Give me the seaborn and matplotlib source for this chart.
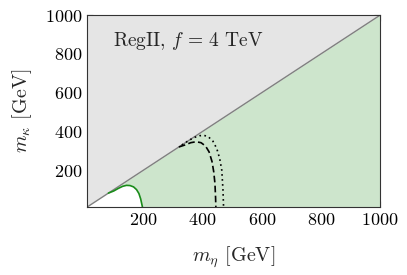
import numpy as np
import pandas as pd
import matplotlib
matplotlib.use("Agg")
import matplotlib.pyplot as plt
import seaborn as sns

# diagonal m_kappa = m_eta
diag = [10, 1000]

# solid green boundary (white region near origin)
green_x = [82, 100, 115, 130, 143, 155, 167, 177, 185, 191, 195, 197]
green_y = [82, 93, 106, 117, 122, 121, 114, 100, 80, 52, 24, 10]

# dashed contour
dash_x = [320, 340, 360, 378, 395, 410, 422, 432, 438, 442, 444, 445]
dash_y = [320, 330, 342, 347, 342, 325, 295, 245, 190, 130, 60, 10]

# dotted contour
dot_x = [330, 350, 370, 390, 405, 420, 435, 448, 458, 465, 469, 471]
dot_y = [330, 350, 368, 378, 380, 372, 350, 312, 260, 200, 100, 10]

sns.set_style("ticks")
plt.rcParams['font.family'] = ['serif']
plt.rcParams['font.serif'] = ['cmr10']
plt.rcParams['mathtext.fontset'] = 'cm'
plt.rcParams['axes.formatter.use_mathtext'] = True

fig = plt.figure(figsize=(4.07, 2.75), dpi=100)
ax = fig.add_axes([0.214, 0.247, 0.72, 0.698])

xx = np.array(diag)
ax.fill_between(xx, xx, 1000, color='#e5e5e5', lw=0)
ax.fill_between(xx, 0, xx, color='#cde5cc', lw=0)
gx = np.array([0] + green_x + [green_x[-1], 0])
gy = np.array([0] + green_y + [0, 0])
ax.fill(gx, gy, color='white', lw=0)
ax.fill_between([0, 85], [0, 0], [0, 85], color='white', lw=0)

sns.lineplot(x=diag, y=diag, color='#808080', lw=1, ax=ax)
sns.lineplot(x=green_x, y=green_y, sort=False, color='#1a8c1a', lw=1.2, ax=ax)
ax.plot(dash_x, dash_y, color='black', lw=1.2, ls=(0, (4, 2)))
ax.plot(dot_x, dot_y, color='black', lw=1.2, ls=(0, (1, 2)))

ax.set_xlim(10, 1000)
ax.set_ylim(10, 1000)
ax.set_xticks([200, 400, 600, 800, 1000])
ax.set_yticks([200, 400, 600, 800, 1000])
ax.tick_params(direction='in', top=True, right=True, length=4, width=0.8,
               labelsize=13, colors='#333333', labelcolor='black')
for s in ax.spines.values():
    s.set_color('#333333')
    s.set_linewidth(0.8)

ax.set_xlabel(r'$m_\eta$ [GeV]', fontsize=14.5, labelpad=12)
ax.set_ylabel(r'$m_\kappa$ [GeV]', fontsize=14.5, labelpad=8)
ax.text(97, 866, r'RegII, $f\,=\,4$ TeV', fontsize=14, va='center')

fig.savefig('out.png', dpi=100)
